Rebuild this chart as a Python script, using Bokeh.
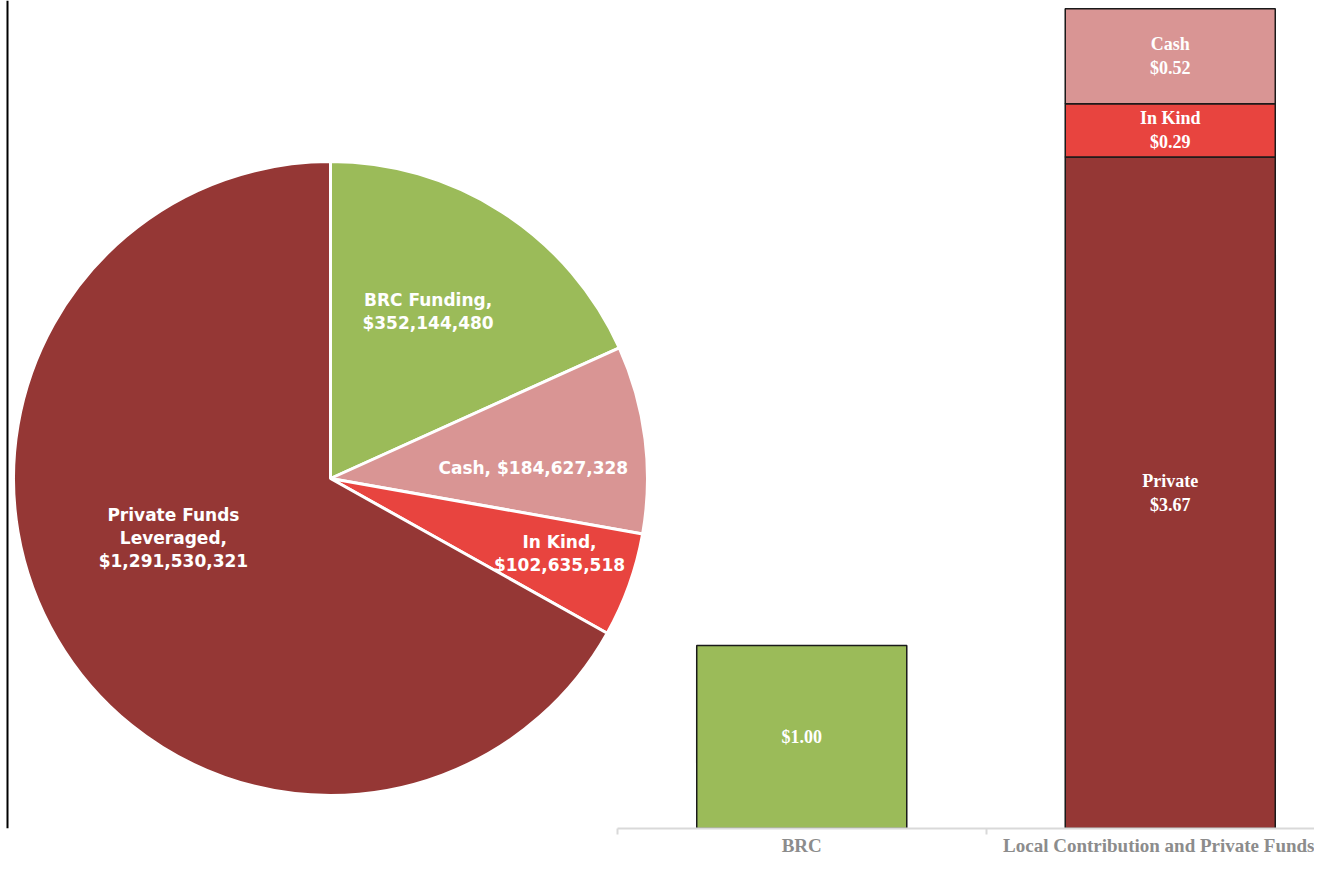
import numpy as np
from bokeh.plotting import figure
from bokeh.models import Range1d, FixedTicker, ColumnDataSource, Span, LinearAxis
from bokeh.core.properties import value
from bokeh.embed import file_html
from bokeh.resources import INLINE

# ---------------- data ----------------
pie_labels = ["BRC Funding,\n$352,144,480", "Cash,  $184,627,328",
              "In Kind,\n$102,635,518", "Private Funds\nLeveraged,\n$1,291,530,321"]
pie_values = [352144480, 184627328, 102635518, 1291530321]
pie_colors = ["#9BBB59", "#D99594", "#E8443F", "#953735"]

bar_categories = ["BRC", "Local Contribution and Private Funds"]
seg_names = ["", "Private", "In Kind", "Cash"]
seg_values = [1.00, 3.67, 0.29, 0.52]
seg_category = [0, 1, 1, 1]
seg_colors = ["#9BBB59", "#953735", "#E8443F", "#D99594"]

# ---------------- layout ----------------
W = 1314
F = 828                      # frame height in px
cx, cy, R = 330, F - 478, 317
lab_ang = [59.7, 3.0, -18.1, 200.8]
lab_r = [0.61, 0.65, 0.76, 0.53]
bar_x0 = 617                 # px where the bar axis starts
px_per_cat = 368.5
px_per_unit = 183.0

p = figure(frame_width=W, frame_height=F,
           x_range=Range1d(0, W), y_range=Range1d(0, F),
           output_backend="svg", toolbar_location=None,
           x_axis_location=None, y_axis_location=None,
           min_border=0, outline_line_color=None)
p.grid.visible = False
p.extra_x_ranges = {"bars": Range1d(-bar_x0 / px_per_cat, (W - bar_x0) / px_per_cat)}
p.extra_y_ranges = {"bars": Range1d(0, F / px_per_unit)}

# ---------------- pie ----------------
vals = np.array(pie_values, dtype=float)
frac = vals / vals.sum()
edges = np.radians(90 - np.concatenate([[0], np.cumsum(frac)]) * 360)
pie_src = ColumnDataSource(dict(start=edges[:-1], end=edges[1:], color=pie_colors))
p.wedge(x=cx, y=cy, radius=R, start_angle="start", end_angle="end",
        direction="clock", fill_color="color",
        line_color="white", line_width=3, source=pie_src)
la = np.radians(lab_ang)
lx = cx + R * np.array(lab_r) * np.cos(la)
ly = cy + R * np.array(lab_r) * np.sin(la)
p.text(x=lx, y=ly, text=pie_labels, text_color="white",
       text_font=value("DejaVu Sans"), text_font_style="bold",
       text_font_size="17px", text_align="center", text_baseline="middle",
       text_line_height=1.15)
p.add_layout(Span(location=7, dimension="height", line_color="black", line_width=2))

# ---------------- stacked bars ----------------
bottoms, tops = [], []
acc = {}
for v, c in zip(seg_values, seg_category):
    b = acc.get(c, 0.0)
    bottoms.append(b)
    tops.append(b + v)
    acc[c] = b + v
xs = [c + 0.5 for c in seg_category]
bar_labels = [(n + "\n" if n else "") + "$%.2f" % v for n, v in zip(seg_names, seg_values)]
bar_src = ColumnDataSource(dict(x=xs, bottom=bottoms, top=tops, color=seg_colors,
                                mid=[(b + t) / 2 for b, t in zip(bottoms, tops)],
                                label=bar_labels))

p.vbar(x="x", bottom="bottom", top="top", width=0.57, fill_color="color",
       line_color="#1a1a1a", line_width=1.5, source=bar_src,
       x_range_name="bars", y_range_name="bars")
p.text(x="x", y="mid", text="label", text_color="white",
       text_font=value("Liberation Serif"), text_font_style="bold",
       text_font_size="18px", text_align="center", text_baseline="middle",
       text_line_height=1.2, source=bar_src,
       x_range_name="bars", y_range_name="bars")

ax = LinearAxis(x_range_name="bars")
ax.bounds = (0, len(bar_categories))
ax.ticker = FixedTicker(ticks=[i + 0.5 for i in range(len(bar_categories))],
                        minor_ticks=list(range(len(bar_categories) + 1)))
ax.major_label_overrides = {i + 0.5: c for i, c in enumerate(bar_categories)}
ax.axis_line_color = "#D9D9D9"
ax.axis_line_width = 2
ax.major_tick_out = 0
ax.major_tick_in = 0
ax.minor_tick_out = 6
ax.minor_tick_in = 0
ax.minor_tick_line_color = "#D9D9D9"
ax.minor_tick_line_width = 2
ax.major_label_standoff = 0
ax.major_label_text_font = "Liberation Serif"
ax.major_label_text_font_style = "bold"
ax.major_label_text_font_size = "19px"
ax.major_label_text_color = "#8C8C8C"
p.add_layout(ax, "below")

open("out.html", "w").write(file_html(p, INLINE))
